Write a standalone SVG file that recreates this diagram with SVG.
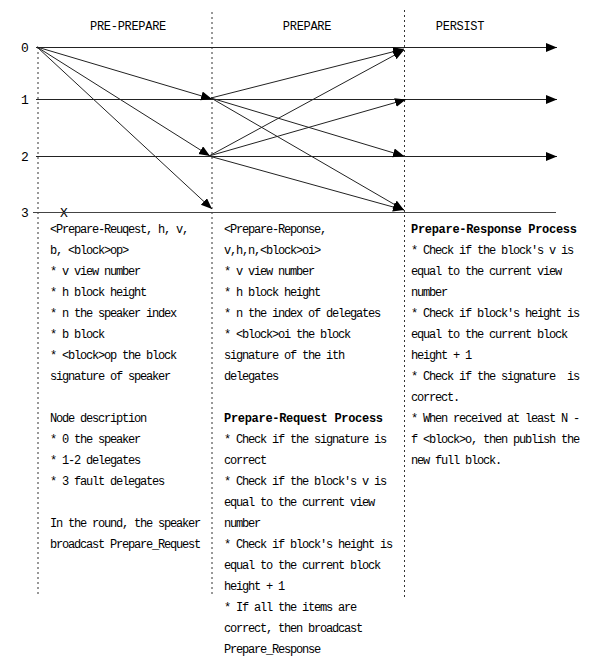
<svg xmlns="http://www.w3.org/2000/svg" width="593" height="665" viewBox="0 0 593 665">
<style>
.t{font-family:"Liberation Mono","Noto Sans CJK SC",monospace;font-size:12px;letter-spacing:-1.2px;fill:#000;white-space:pre}
.b{font-weight:bold;letter-spacing:-0.3px}
.h{font-family:"Liberation Mono","Noto Sans CJK SC",monospace;font-size:12px;letter-spacing:-0.3px;fill:#000}
.n{font-family:"Liberation Mono","Noto Sans CJK SC",monospace;font-size:13px;fill:#000}
.dot{stroke:#333;stroke-width:1;stroke-dasharray:2 3;fill:none}
.hl{stroke:#444;stroke-width:1;fill:none}
.ar{stroke:#222;stroke-width:1;fill:none;marker-end:url(#ah)}
</style>
<defs>
<marker id="ah" markerUnits="userSpaceOnUse" markerWidth="12" markerHeight="10" refX="11" refY="4.5" orient="auto">
<path d="M0,0 L11,4.5 L0,9 z" fill="#000"/>
</marker>
</defs>
<rect width="593" height="665" fill="#fff"/>
<g id="phases">
<line class="dot" x1="38" y1="47" x2="38" y2="596"/>
<line class="dot" x1="212" y1="12" x2="212" y2="596"/>
<line class="dot" x1="404.5" y1="10" x2="404.5" y2="600"/>
<text class="h" x="128" y="30" text-anchor="middle">PRE-PREPARE</text>
<text class="h" x="307" y="30" text-anchor="middle">PREPARE</text>
<text class="h" x="460" y="30" text-anchor="middle">PERSIST</text>
</g>
<g id="node0"><text class="n" x="21" y="52">0</text></g>
<g id="node1"><text class="n" x="21" y="104">1</text></g>
<g id="node2"><text class="n" x="21" y="161">2</text></g>
<g id="node3"><text class="n" x="21" y="217">3</text>
<text class="n" x="60" y="217">X</text></g>
<g id="connectors">
<line class="ar" x1="36" y1="47.5" x2="557" y2="47.5"/>
<line class="ar" x1="36" y1="99.5" x2="557" y2="99.5"/>
<line class="ar" x1="36" y1="156.5" x2="557" y2="156.5"/>
<line class="hl" x1="33" y1="212.5" x2="556" y2="212.5"/>
<line class="ar" x1="37" y1="47" x2="212" y2="99"/>
<line class="ar" x1="37" y1="47" x2="210" y2="156"/>
<line class="ar" x1="37" y1="47" x2="212" y2="209"/>
<line class="ar" x1="211" y1="98" x2="404" y2="49"/>
<line class="ar" x1="211" y1="98" x2="404" y2="156"/>
<line class="ar" x1="211" y1="98" x2="404" y2="210"/>
<line class="ar" x1="209" y1="156" x2="404" y2="50"/>
<line class="ar" x1="209" y1="156" x2="406" y2="99.5"/>
<line class="ar" x1="209" y1="156" x2="404" y2="210"/>
</g>
<g id="col-preprepare">
<text class="t" x="50" y="233">&lt;Prepare-Reuqest, h, v,</text>
<text class="t" x="50" y="254">b, &lt;block&gt;op&gt;</text>
<text class="t" x="50" y="275">* v view number</text>
<text class="t" x="50" y="296">* h block height</text>
<text class="t" x="50" y="317">* n the speaker index</text>
<text class="t" x="50" y="338">* b block</text>
<text class="t" x="50" y="359">* &lt;block&gt;op the block</text>
<text class="t" x="50" y="380">signature of speaker</text>
<text class="t" x="50" y="422">Node description</text>
<text class="t" x="50" y="443">* 0 the speaker</text>
<text class="t" x="50" y="464">* 1-2 delegates</text>
<text class="t" x="50" y="485">* 3 fault delegates</text>
<text class="t" x="50" y="527">In the round, the speaker</text>
<text class="t" x="50" y="548">broadcast Prepare_Request</text>
</g>
<g id="col-prepare">
<text class="t" x="224" y="233">&lt;Prepare-Reponse,</text>
<text class="t" x="224" y="254">v,h,n,&lt;block&gt;oi&gt;</text>
<text class="t" x="224" y="275">* v view number</text>
<text class="t" x="224" y="296">* h block height</text>
<text class="t" x="224" y="317">* n the index of delegates</text>
<text class="t" x="224" y="338">* &lt;block&gt;oi the block</text>
<text class="t" x="224" y="359">signature of the ith</text>
<text class="t" x="224" y="380">delegates</text>
<text class="t b" x="224" y="422">Prepare-Request Process</text>
<text class="t" x="224" y="443">* Check if the signature is</text>
<text class="t" x="224" y="464">correct</text>
<text class="t" x="224" y="485">* Check if the block's v is</text>
<text class="t" x="224" y="506">equal to the current view</text>
<text class="t" x="224" y="527">number</text>
<text class="t" x="224" y="548">* Check if block's height is</text>
<text class="t" x="224" y="569">equal to the current block</text>
<text class="t" x="224" y="590">height + 1</text>
<text class="t" x="224" y="611">* If all the items are</text>
<text class="t" x="224" y="632">correct, then broadcast</text>
<text class="t" x="224" y="653">Prepare_Response</text>
</g>
<g id="col-persist">
<text class="t b" x="411" y="233">Prepare-Response Process</text>
<text class="t" x="411" y="254">* Check if the block's v is</text>
<text class="t" x="411" y="275">equal to the current view</text>
<text class="t" x="411" y="296">number</text>
<text class="t" x="411" y="317">* Check if block's height is</text>
<text class="t" x="411" y="338">equal to the current block</text>
<text class="t" x="411" y="359">height + 1</text>
<text class="t" x="411" y="380">* Check if the signature  is</text>
<text class="t" x="411" y="401">correct.</text>
<text class="t" x="411" y="422">* When received at least N -</text>
<text class="t" x="411" y="443">f &lt;block&gt;o, then publish the</text>
<text class="t" x="411" y="464">new full block.</text>
</g>
</svg>
